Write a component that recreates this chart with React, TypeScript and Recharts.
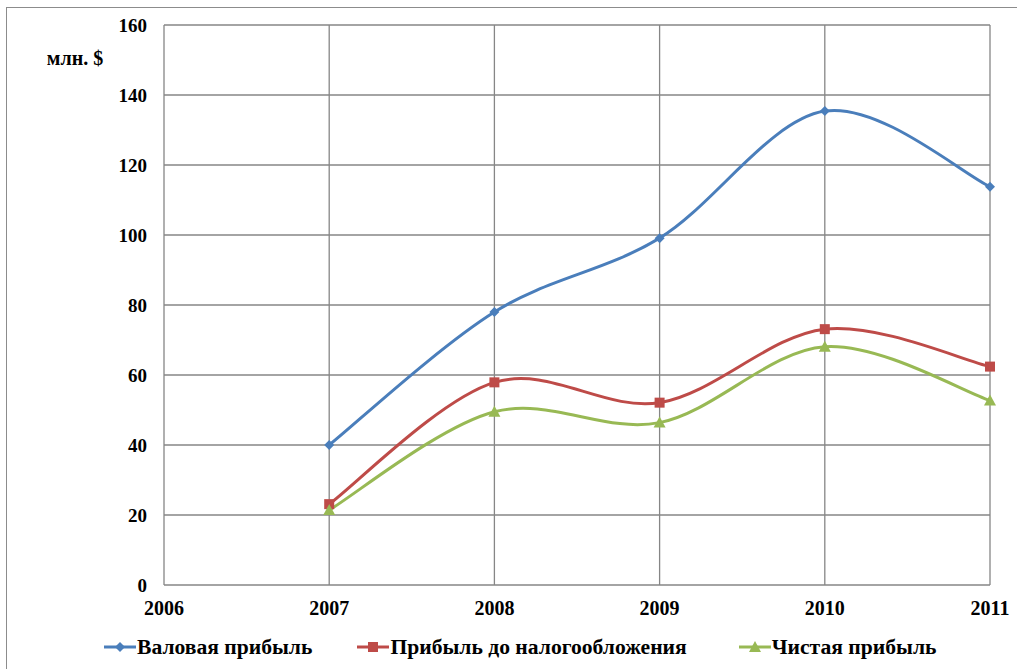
import React from "react";
import {
  LineChart,
  Line,
  XAxis,
  YAxis,
  CartesianGrid,
  Legend,
  Label,
} from "recharts";

// --- data ---

const years = [2007, 2008, 2009, 2010, 2011];
const grossProfit = [40, 78, 99.1, 135.4, 113.8];
const preTaxProfit = [23.1, 57.9, 52.1, 73.1, 62.4];
const netProfit = [21.4, 49.5, 46.4, 68.1, 52.7];

const xTicks = [2006, 2007, 2008, 2009, 2010, 2011];
const yTicks = [0, 20, 40, 60, 80, 100, 120, 140, 160];

const series = [
  { key: "gross", label: "Валовая прибыль", color: "#4A7EBB", marker: "diamond", gap: 45 },
  { key: "pretax", label: "Прибыль до налогообложения", color: "#BE4B48", marker: "square", gap: 52 },
  { key: "net", label: "Чистая прибыль", color: "#98B954", marker: "triangle", gap: 0 },
];

const data = years.map((year, i) => ({
  year,
  gross: grossProfit[i],
  pretax: preTaxProfit[i],
  net: netProfit[i],
}));

const FONT = '"Liberation Serif", "Times New Roman", serif';

// Excel-style smoothed line (Catmull-Rom as cubic beziers)
const excelSmooth = (context: any) => {
  let pts: number[][] = [];
  return {
    areaStart() {},
    areaEnd() {},
    lineStart() {
      pts = [];
    },
    point(x: number, y: number) {
      pts.push([+x, +y]);
    },
    lineEnd() {
      if (!pts.length) return;
      context.moveTo(pts[0][0], pts[0][1]);
      for (let i = 0; i < pts.length - 1; i++) {
        const p0 = pts[i - 1] || pts[i];
        const p1 = pts[i];
        const p2 = pts[i + 1];
        const p3 = pts[i + 2] || p2;
        context.bezierCurveTo(
          p1[0] + (p2[0] - p0[0]) / 6,
          p1[1] + (p2[1] - p0[1]) / 6,
          p2[0] - (p3[0] - p1[0]) / 6,
          p2[1] - (p3[1] - p1[1]) / 6,
          p2[0],
          p2[1]
        );
      }
    },
  };
};

const Marker = ({ cx, cy, kind, color }: any) => {
  if (cx == null || cy == null) return null;
  if (kind === "diamond") {
    const r = 5;
    return (
      <path
        d={`M${cx},${cy - r}L${cx + r},${cy}L${cx},${cy + r}L${cx - r},${cy}Z`}
        fill={color}
      />
    );
  }
  if (kind === "square") {
    return <rect x={cx - 5} y={cy - 5} width={10} height={10} fill={color} />;
  }
  return (
    <path
      d={`M${cx},${cy - 6}L${cx + 6},${cy + 5}L${cx - 6},${cy + 5}Z`}
      fill={color}
    />
  );
};

const LegendContent = () => (
  <div
    style={{
      display: "flex",
      justifyContent: "flex-start",
      alignItems: "center",
      paddingLeft: 104,
      fontFamily: FONT,
      fontWeight: "bold",
      fontSize: 21.6,
      color: "#000",
      height: 44,
      whiteSpace: "nowrap",
    }}
  >
    {series.map((s) => (
      <div
        key={s.key}
        style={{ display: "flex", alignItems: "center", marginRight: s.gap }}
      >
        <svg width={32} height={14} style={{ marginRight: 1 }}>
          <line x1={0} y1={7} x2={32} y2={7} stroke={s.color} strokeWidth={3} />
          <Marker cx={16} cy={7} kind={s.marker} color={s.color} />
        </svg>
        <span>{s.label}</span>
      </div>
    ))}
  </div>
);

export default function App() {
  return (
    <div
      style={{
        position: "absolute",
        left: 0,
        top: 0,
        width: 1017,
        height: 669,
        background: "#fff",
        overflow: "hidden",
      }}
    >
      <div
        style={{
          position: "absolute",
          left: 6,
          top: 7,
          width: 1020,
          height: 680,
          border: "1px solid #8c8c8c",
        }}
      />
      <div style={{ position: "absolute", left: 0, top: 0 }}>
        <LineChart
          width={1017}
          height={669}
          data={data}
          margin={{ top: 25, right: 27, left: 0, bottom: 0 }}
        >
          <CartesianGrid stroke="#868686" strokeWidth={1.3} />
          <XAxis
            dataKey="year"
            type="number"
            domain={[2006, 2011]}
            ticks={xTicks}
            interval={0}
            axisLine={false}
            tickLine={false}
            tickSize={0}
            tickMargin={16}
            height={40}
            tick={{ fill: "#000", fontFamily: FONT, fontWeight: "bold", fontSize: 20 }}
          />
          <YAxis
            type="number"
            domain={[0, 160]}
            ticks={yTicks}
            interval={0}
            axisLine={false}
            tickLine={false}
            tickSize={0}
            tickMargin={17}
            width={164}
            tick={{ fill: "#000", fontFamily: FONT, fontWeight: "bold", fontSize: 19 }}
          >
            <Label
              content={() => (
                <text
                  x={75}
                  y={65}
                  textAnchor="middle"
                  fontFamily={FONT}
                  fontWeight="bold"
                  fontSize={20}
                  fill="#000"
                >
                  млн. $
                </text>
              )}
            />
          </YAxis>
          <Legend verticalAlign="bottom" height={44} content={<LegendContent />} />
          {series.map((s) => (
            <Line
              key={s.key}
              dataKey={s.key}
              name={s.label}
              type={excelSmooth as any}
              stroke={s.color}
              strokeWidth={3}
              dot={(p: any) => (
                <Marker key={`${s.key}-${p.index}`} cx={p.cx} cy={p.cy} kind={s.marker} color={s.color} />
              )}
              activeDot={false}
              isAnimationActive={false}
            />
          ))}
        </LineChart>
      </div>
    </div>
  );
}
